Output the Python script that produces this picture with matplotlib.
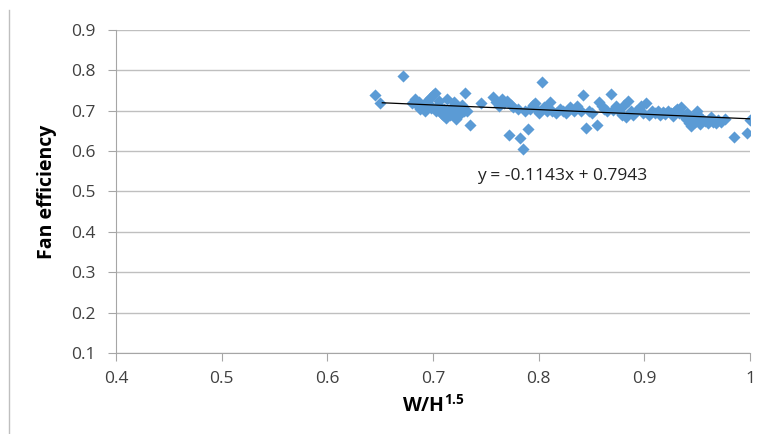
import numpy as np
import matplotlib.pyplot as plt
from matplotlib.lines import Line2D

# W/H^1.5 vs fan efficiency
ratio = [0.645, 0.650, 0.672, 0.680, 0.683, 0.685, 0.687, 0.688, 0.690, 0.692,
         0.694, 0.695, 0.697, 0.698, 0.700, 0.702, 0.703, 0.705, 0.706, 0.708,
         0.709, 0.710, 0.712, 0.713, 0.715, 0.716, 0.718, 0.720, 0.721, 0.722,
         0.724, 0.725, 0.727, 0.729, 0.730, 0.732, 0.735, 0.745, 0.757, 0.760,
         0.762, 0.765, 0.767, 0.770, 0.772, 0.774, 0.776, 0.780, 0.782, 0.785,
         0.787, 0.790, 0.792, 0.795, 0.797, 0.799, 0.800, 0.803, 0.805, 0.808,
         0.811, 0.813, 0.816, 0.820, 0.823, 0.826, 0.830, 0.833, 0.836, 0.840,
         0.842, 0.845, 0.848, 0.850, 0.855, 0.857, 0.860, 0.862, 0.865, 0.868,
         0.870, 0.873, 0.876, 0.879, 0.881, 0.883, 0.885, 0.887, 0.889, 0.892,
         0.895, 0.897, 0.899, 0.902, 0.904, 0.907, 0.910, 0.913, 0.915, 0.918,
         0.920, 0.922, 0.925, 0.927, 0.929, 0.931, 0.933, 0.935, 0.937, 0.939,
         0.940, 0.942, 0.944, 0.946, 0.948, 0.950, 0.951, 0.953, 0.955, 0.957,
         0.960, 0.963, 0.965, 0.968, 0.970, 0.973, 0.976, 0.985, 0.997, 1.000]
eff = [0.739, 0.719, 0.786, 0.720, 0.728, 0.715, 0.722, 0.705, 0.712, 0.700,
       0.725, 0.718, 0.732, 0.708, 0.738, 0.745, 0.700, 0.715, 0.725, 0.695,
       0.690, 0.705, 0.682, 0.728, 0.700, 0.690, 0.710, 0.722, 0.695, 0.680,
       0.705, 0.690, 0.715, 0.700, 0.745, 0.700, 0.665, 0.718, 0.733, 0.722,
       0.712, 0.728, 0.720, 0.725, 0.640, 0.715, 0.710, 0.705, 0.632, 0.605,
       0.700, 0.655, 0.705, 0.715, 0.720, 0.700, 0.695, 0.770, 0.710, 0.700,
       0.722, 0.700, 0.695, 0.705, 0.700, 0.695, 0.710, 0.700, 0.712, 0.700,
       0.738, 0.658, 0.700, 0.695, 0.665, 0.722, 0.712, 0.705, 0.700, 0.742,
       0.702, 0.712, 0.700, 0.690, 0.715, 0.685, 0.725, 0.700, 0.690, 0.700,
       0.705, 0.712, 0.695, 0.720, 0.690, 0.700, 0.695, 0.700, 0.690, 0.698,
       0.692, 0.700, 0.695, 0.688, 0.700, 0.705, 0.695, 0.710, 0.690, 0.680,
       0.695, 0.670, 0.662, 0.685, 0.672, 0.700, 0.690, 0.668, 0.680, 0.675,
       0.670, 0.685, 0.672, 0.670, 0.678, 0.672, 0.680, 0.635, 0.645, 0.678]

slope = -0.1143
intercept = 0.7943
trend_x = [0.652, 1.0]

xticks = [0.4, 0.5, 0.6, 0.7, 0.8, 0.9, 1.0]
xticklabels = ['0.4', '0.5', '0.6', '0.7', '0.8', '0.9', '1']
yticks = [0.1, 0.2, 0.3, 0.4, 0.5, 0.6, 0.7, 0.8, 0.9]

plt.rcParams['font.family'] = ['Open Sans', 'DejaVu Sans']
plt.rcParams['mathtext.fontset'] = 'custom'
plt.rcParams['mathtext.bf'] = 'Open Sans:bold'

fig = plt.figure(figsize=(7.66, 4.34), dpi=100)
ax = fig.add_axes([116/766, 1-353/434, (750-116)/766, (353-30)/434])

ax.scatter(ratio, eff, marker='D', s=38, color='#5B9BD5', zorder=3, linewidths=0)
tx = np.array(trend_x)
ax.plot(tx, slope*tx + intercept, color='black', lw=0.9, zorder=4)
ax.text(0.742, 0.538, 'y = -0.1143x + 0.7943', fontsize=12.5, va='center', ha='left',
        color='#222222')

ax.set_xlim(0.4, 1.0)
ax.set_ylim(0.1, 0.9)
ax.set_xticks(xticks)
ax.set_xticklabels(xticklabels)
ax.set_yticks(yticks)
ax.set_yticklabels(['%.1f' % v for v in yticks])
ax.tick_params(labelsize=12.5, color='#A6A6A6', length=6, width=0.8, labelcolor='#404040')
ax.tick_params(axis='x', pad=7)
ax.tick_params(axis='y', pad=9)
ax.yaxis.grid(True, color='#BFBFBF', lw=1)
ax.set_axisbelow(True)
for s in ['top', 'right']:
    ax.spines[s].set_visible(False)
for s in ['left', 'bottom']:
    ax.spines[s].set_color('#A6A6A6')
    ax.spines[s].set_linewidth(0.8)

ax.set_xlabel('W/H$^{\\mathbf{1.5}}$', fontsize=14, fontweight='bold', labelpad=6)
ax.set_ylabel('Fan efficiency', fontsize=14, fontweight='bold', labelpad=10)

fig.add_artist(Line2D([9/766, 9/766], [0, 1-10/434], color='#BFBFBF', lw=1))

fig.savefig('out.png', dpi=100)
